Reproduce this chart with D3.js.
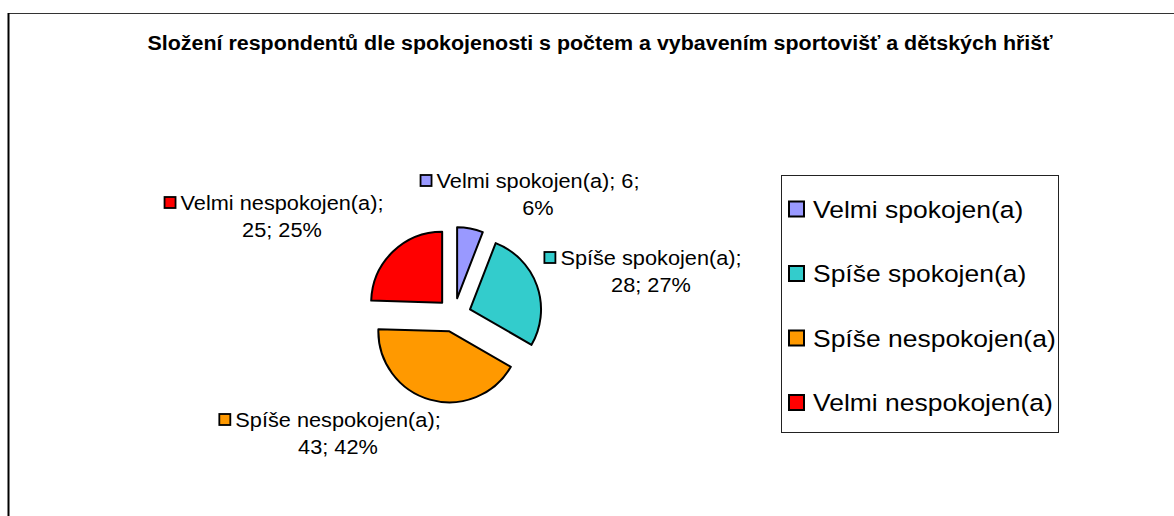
<!DOCTYPE html>
<html><head><meta charset="utf-8">
<script src="https://cdn.jsdelivr.net/npm/d3@7"></script>
<style>html,body{margin:0;padding:0;background:#fff;}svg{display:block;font-family:"Liberation Sans",Arial,sans-serif;}</style>
</head><body>
<svg id="c" width="1174" height="516"></svg>
<script>
const title = "Složení respondentů dle spokojenosti s počtem a vybavením sportovišť a dětských hřišť";
const categories = ["Velmi spokojen(a)", "Spíše spokojen(a)", "Spíše nespokojen(a)", "Velmi nespokojen(a)"];
const counts = [6, 28, 43, 25];
const percents = [6, 27, 42, 25];
const colors = ["#9999FF", "#33CCCC", "#FF9900", "#FF0000"];
// label line breaks as in the reference
const labelLines = [
  [categories[0] + "; " + counts[0] + ";", percents[0] + "%"],
  [categories[1] + ";", counts[1] + "; " + percents[1] + "%"],
  [categories[2] + ";", counts[2] + "; " + percents[2] + "%"],
  [categories[3] + ";", counts[3] + "; " + percents[3] + "%"]
];
// label centres (layout)
const labelPos = [[538, 181], [651, 258], [338, 420], [282, 203]];

const svg = d3.select("#c");
// frame
svg.append("line").attr("x1", 8).attr("x2", 1174).attr("y1", 13.5).attr("y2", 13.5).attr("stroke", "#333").attr("stroke-width", 1.2);
svg.append("line").attr("x1", 8.5).attr("x2", 8.5).attr("y1", 13).attr("y2", 516).attr("stroke", "#000").attr("stroke-width", 2);

svg.append("text").attr("x", 600).attr("y", 50).attr("text-anchor", "middle")
  .attr("font-weight", "bold").attr("font-size", 20).attr("textLength", 905).attr("lengthAdjust", "spacingAndGlyphs")
  .text(title);

const cx = 454, cy = 315, r = 71, explode = 17;
const pie = d3.pie().sort(null).value(d => d)(counts);
const arc = d3.arc().innerRadius(0).outerRadius(r);
const g = svg.append("g").attr("transform", `translate(${cx},${cy})`);
g.selectAll("path").data(pie).join("path")
  .attr("transform", d => { const a = (d.startAngle + d.endAngle) / 2; return `translate(${Math.sin(a) * explode},${-Math.cos(a) * explode})`; })
  .attr("d", arc)
  .attr("fill", (d, i) => colors[i])
  .attr("stroke", "#000").attr("stroke-width", 2).attr("stroke-linejoin", "round");

function stretch(sel, k) {
  sel.each(function () {
    const w = this.getComputedTextLength();
    d3.select(this).attr("textLength", w * k).attr("lengthAdjust", "spacingAndGlyphs");
  });
}

// data labels
const fs = 20.5, lh = 27;
labelLines.forEach((lines, i) => {
  const [x, y] = labelPos[i];
  const grp = svg.append("g");
  lines.forEach((t, j) => {
    grp.append("text").attr("x", x).attr("y", y + j * lh).attr("dy", "0.35em")
      .attr("text-anchor", "middle").attr("font-size", fs).attr("fill", "#000").text(t);
  });
  stretch(grp.selectAll("text"), 1.06);
  const t0 = grp.select("text").node();
  const w = +t0.getAttribute("textLength");
  grp.append("rect").attr("x", x - w / 2 - 16).attr("y", y - 6).attr("width", 11).attr("height", 11)
    .attr("fill", colors[i]).attr("stroke", "#000").attr("stroke-width", 1.8);
});

// legend
const lg = svg.append("g");
lg.append("rect").attr("x", 781.5).attr("y", 175.5).attr("width", 277).attr("height", 257)
  .attr("fill", "#fff").attr("stroke", "#222").attr("stroke-width", 1);
const rowY = d3.scalePoint().domain(categories).range([209, 402.5]);
categories.forEach((c, i) => {
  const y = rowY(c);
  lg.append("rect").attr("x", 789).attr("y", y - 7.5).attr("width", 15).attr("height", 15)
    .attr("fill", colors[i]).attr("stroke", "#000").attr("stroke-width", 2);
  lg.append("text").attr("x", 813).attr("y", y).attr("dy", "0.36em").attr("font-size", 24.5).attr("fill", "#000").text(c);
});
stretch(lg.selectAll("text"), 1.08);
</script>
</body></html>
